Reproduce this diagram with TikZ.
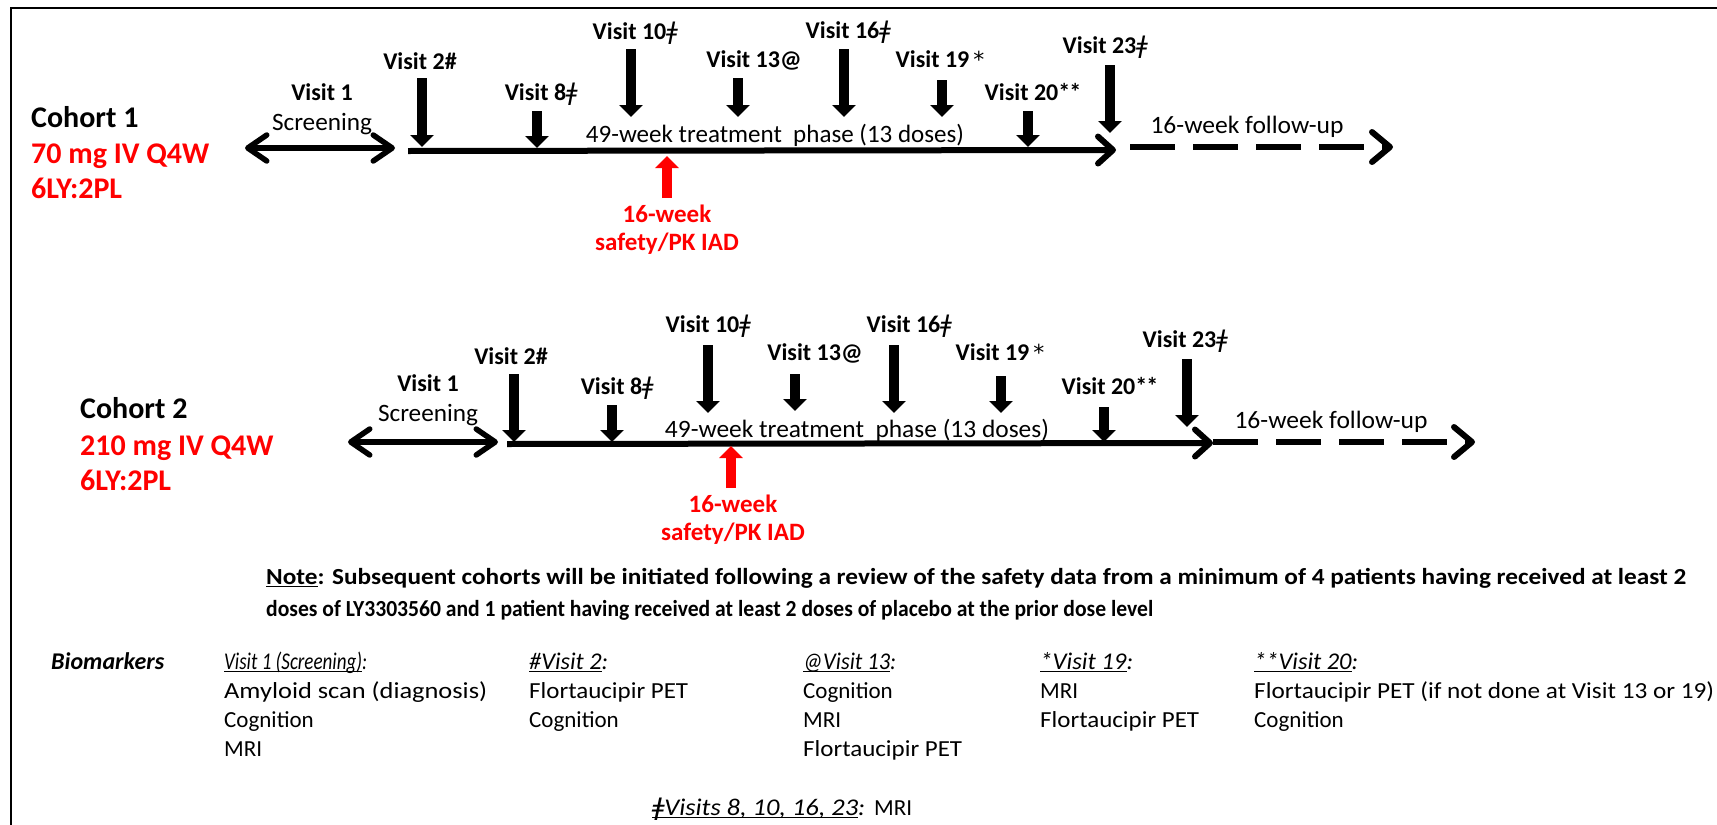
\documentclass[tikz,border=0pt]{standalone}
\usepackage{fontspec}
\setmainfont{Carlito}
\newfontfamily\dvs{DejaVu Sans}
\usepackage{graphicx}
\usetikzlibrary{arrows.meta}
\newcommand\dg{{\dvs\mdseries\itshape\symbol{"01C2}}}
\newcommand\bigstar{{\dvs\mdseries\fontsize{22}{26}\selectfont *}}
\newcommand\myul[1]{\setbox0=\hbox{#1}\rlap{\rule[-3pt]{\wd0}{1.3pt}}\box0}
\newcommand\fitw[2]{\resizebox{#1}{\height}{#2}}
\tikzset{
  vlab/.style={anchor=base, font=\fontsize{24}{28}\selectfont\bfseries, inner sep=0pt},
  rlab/.style={anchor=base, font=\fontsize{25}{29}\selectfont, inner sep=0pt},
  coh/.style={anchor=base west, font=\fontsize{30}{35}\selectfont\bfseries, inner sep=0pt},
  cohr/.style={coh, text=red},
  redlab/.style={anchor=base, font=\fontsize{25}{29}\selectfont\bfseries, text=red, inner sep=0pt},
  downarr/.style={line width=10.5pt, -{Triangle[width=23pt,length=12pt]}},
  uparr/.style={downarr, red},
  tline/.style={line width=6pt, -{Straight Barb[length=15pt,width=27pt,round]}},
  dline/.style={line width=6pt, dash pattern=on 45pt off 18pt, -{Straight Barb[length=18pt,width=30pt,round]}},
  dbl/.style={line width=5.5pt, {Straight Barb[length=19pt,width=26pt,round]}-{Straight Barb[length=19pt,width=26pt,round]}},
  bio/.style={anchor=base west, font=\fontsize{23}{27}\selectfont, inner sep=0pt},
  bioh/.style={anchor=base west, font=\fontsize{24}{28}\selectfont\itshape, inner sep=0pt},
  notetxt/.style={anchor=base west, font=\fontsize{23}{27}\selectfont\bfseries, inner sep=0pt},
}
\begin{document}
\begin{tikzpicture}[x=1pt,y=-1pt]
\useasboundingbox (0,0) rectangle (1717,825);
% frame
\coordinate (fbl) at (11,825);
\coordinate (ftl) at (11,8);
\coordinate (ftr) at (1717,8);
\draw[line width=2.5pt] (fbl) -- (ftl) -- (ftr);

% ---------------- Cohort 1 ----------------
\node[coh]  (c1name) at (31,127) {Cohort 1};
\node[cohr] (c1dose) at (31,163) {70 mg IV Q4W};
\node[cohr] (c1ratio) at (31,198) {6LY:2PL};

\node[vlab] (c1v1) at (322,100) {Visit 1};
\node[rlab] (c1scr) at (322,130) {\fitw{100pt}{Screening}};
\coordinate (c1dl) at (245,148);
\coordinate (c1dr) at (395,148);
\draw[dbl] (c1dl) -- (c1dr);

\coordinate (c1ts) at (408,151);
\coordinate (c1te) at (1116,150);
\draw[tline] (c1ts) -- (c1te);
\coordinate (c1fs) at (1130,147);
\coordinate (c1fe) at (1393,147);
\draw[dline] (c1fs) -- (c1fe);
\node[rlab] (c1fu) at (1247,133) {\fitw{193pt}{16-week follow-up}};
\node[rlab] (c1tp) at (775,142) {\fitw{378pt}{49-week treatment\ \ phase (13 doses)}};

\node[vlab] (c1l2)  at (420,69) {Visit 2\#};
\node[vlab] (c1l8)  at (541,100) {Visit 8\dg};
\node[vlab] (c1l10) at (635,39) {Visit 10\dg};
\node[vlab] (c1l13) at (754,67) {Visit 13@};
\node[vlab] (c1l16) at (848,38) {Visit 16\dg};
\node[vlab] (c1l19) at (940,67) {Visit 19\,\bigstar};
\node[vlab] (c1l20) at (1033,100) {Visit 20*\kern-1pt*};
\node[vlab] (c1l23) at (1105,53) {Visit 23\dg};

\coordinate (c1a2t) at (422,78);   \coordinate (c1a2b) at (422,147);
\coordinate (c1a8t) at (537,111);  \coordinate (c1a8b) at (537,148);
\coordinate (c1a10t) at (631,49);  \coordinate (c1a10b) at (631,117);
\coordinate (c1a13t) at (738,78);  \coordinate (c1a13b) at (738,117);
\coordinate (c1a16t) at (844,49);  \coordinate (c1a16b) at (844,117);
\coordinate (c1a19t) at (942,80);  \coordinate (c1a19b) at (942,117);
\coordinate (c1a20t) at (1028,111); \coordinate (c1a20b) at (1028,147);
\coordinate (c1a23t) at (1110,65); \coordinate (c1a23b) at (1110,133);
\draw[downarr] (c1a2t) -- (c1a2b);
\draw[downarr] (c1a8t) -- (c1a8b);
\draw[downarr] (c1a10t) -- (c1a10b);
\draw[downarr] (c1a13t) -- (c1a13b);
\draw[downarr] (c1a16t) -- (c1a16b);
\draw[downarr] (c1a19t) -- (c1a19b);
\draw[downarr] (c1a20t) -- (c1a20b);
\draw[downarr] (c1a23t) -- (c1a23b);

\coordinate (c1rb) at (667,198);
\coordinate (c1rt) at (667,156);
\draw[uparr] (c1rb) -- (c1rt);
\node[redlab] (c1r1) at (667,222) {16-week};
\node[redlab] (c1r2) at (667,250) {safety/PK IAD};

% ---------------- Cohort 2 ----------------
\node[coh]  (c2name) at (80,418) {Cohort 2};
\node[cohr] (c2dose) at (80,455) {210 mg IV Q4W};
\node[cohr] (c2ratio) at (80,490) {6LY:2PL};

\node[vlab] (c2v1) at (428,391) {Visit 1};
\node[rlab] (c2scr) at (428,421) {\fitw{100pt}{Screening}};
\coordinate (c2dl) at (348,442);
\coordinate (c2dr) at (498,442);
\draw[dbl] (c2dl) -- (c2dr);

\coordinate (c2ts) at (507,444);
\coordinate (c2te) at (1213,443);
\draw[tline] (c2ts) -- (c2te);
\coordinate (c2fs) at (1213,442);
\coordinate (c2fe) at (1475,442);
\draw[dline] (c2fs) -- (c2fe);
\node[rlab] (c2fu) at (1331,428) {\fitw{193pt}{16-week follow-up}};
\node[rlab] (c2tp) at (857,437) {\fitw{384pt}{49-week treatment\ \ phase (13 doses)}};

\node[vlab] (c2l2)  at (511,364) {Visit 2\#};
\node[vlab] (c2l8)  at (617,394) {Visit 8\dg};
\node[vlab] (c2l10) at (708,332) {Visit 10\dg};
\node[vlab] (c2l13) at (815,360) {Visit 13@};
\node[vlab] (c2l16) at (909,332) {Visit 16\dg};
\node[vlab] (c2l19) at (1000,360) {Visit 19\,\bigstar};
\node[vlab] (c2l20) at (1110,394) {Visit 20*\kern-1pt*};
\node[vlab] (c2l23) at (1185,347) {Visit 23\dg};

\coordinate (c2a2t) at (514,374);   \coordinate (c2a2b) at (514,442);
\coordinate (c2a8t) at (612,405);   \coordinate (c2a8b) at (612,442);
\coordinate (c2a10t) at (708,345);  \coordinate (c2a10b) at (708,413);
\coordinate (c2a13t) at (795,374);  \coordinate (c2a13b) at (795,411);
\coordinate (c2a16t) at (894,345);  \coordinate (c2a16b) at (894,413);
\coordinate (c2a19t) at (1001,376); \coordinate (c2a19b) at (1001,413);
\coordinate (c2a20t) at (1104,407); \coordinate (c2a20b) at (1104,442);
\coordinate (c2a23t) at (1187,359); \coordinate (c2a23b) at (1187,427);
\draw[downarr] (c2a2t) -- (c2a2b);
\draw[downarr] (c2a8t) -- (c2a8b);
\draw[downarr] (c2a10t) -- (c2a10b);
\draw[downarr] (c2a13t) -- (c2a13b);
\draw[downarr] (c2a16t) -- (c2a16b);
\draw[downarr] (c2a19t) -- (c2a19b);
\draw[downarr] (c2a20t) -- (c2a20b);
\draw[downarr] (c2a23t) -- (c2a23b);

\coordinate (c2rb) at (731,488);
\coordinate (c2rt) at (731,446);
\draw[uparr] (c2rb) -- (c2rt);
\node[redlab] (c2r1) at (733,512) {16-week};
\node[redlab] (c2r2) at (733,540) {safety/PK IAD};

% ---------------- Note ----------------
\node[notetxt] (note1) at (266,584) {\fitw{1420pt}{\myul{Note}: Subsequent cohorts will be initiated following a review of the safety data from a minimum of 4 patients having received at least 2}};
\node[notetxt] (note2) at (266,616) {\fitw{887pt}{doses of LY3303560 and 1 patient having received at least 2 doses of placebo at the prior dose level}};

% ---------------- Biomarkers ----------------
\node[bioh, font=\fontsize{24}{28}\selectfont\bfseries\itshape] (bm) at (51,669) {\fitw{113pt}{Biomarkers}};

\node[bioh] (h1) at (224,669) {\fitw{143pt}{\myul{Visit 1 (Screening)}:}};
\node[bio] (h1a) at (224,698) {\fitw{263pt}{Amyloid scan (diagnosis)}};
\node[bio] (h1b) at (224,727) {Cognition};
\node[bio] (h1c) at (224,756) {MRI};

\node[bioh] (h2) at (529,669) {\fitw{79pt}{\myul{\#Visit 2}:}};
\node[bio] (h2a) at (529,698) {\fitw{159pt}{Flortaucipir PET}};
\node[bio] (h2b) at (529,727) {Cognition};

\node[bioh] (h3) at (803,669) {\fitw{93pt}{\myul{@Visit 13}:}};
\node[bio] (h3a) at (803,698) {Cognition};
\node[bio] (h3b) at (803,727) {MRI};
\node[bio] (h3c) at (803,756) {\fitw{159pt}{Flortaucipir PET}};

\node[bioh] (h4) at (1040,669) {\fitw{93pt}{\myul{*Visit 19}:}};
\node[bio] (h4a) at (1040,698) {MRI};
\node[bio] (h4b) at (1040,727) {\fitw{159pt}{Flortaucipir PET}};

\node[bioh] (h5) at (1254,669) {\fitw{104pt}{\myul{**Visit 20}:}};
\node[bio] (h5a) at (1254,698) {\fitw{460pt}{Flortaucipir PET (if not done at Visit 13 or 19)}};
\node[bio] (h5b) at (1254,727) {Cognition};

\node[bioh] (hf) at (652,815) {\fitw{213pt}{\myul{\dg Visits 8, 10, 16, 23}:}};
\node[bio] (hfm) at (874,815) {MRI};
\end{tikzpicture}
\end{document}
